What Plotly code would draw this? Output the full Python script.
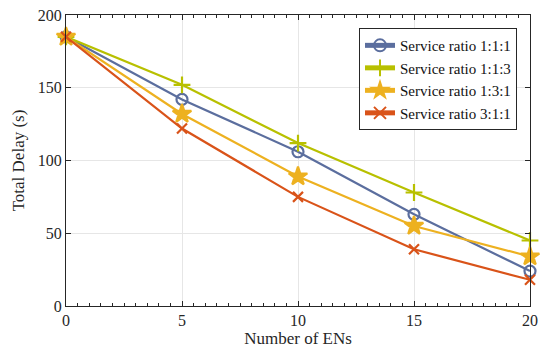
import plotly.graph_objects as go

ens = [0, 5, 10, 15, 20]
names = ["Service ratio 1:1:1", "Service ratio 1:1:3", "Service ratio 1:3:1", "Service ratio 3:1:1"]
s111 = [185, 142, 106, 63, 24]
s113 = [185, 152, 112, 78, 45]
s131 = [185, 132, 89, 55, 34]
s311 = [185, 122, 75, 39, 18]

series = [s111, s113, s131, s311]
colors = ["#5B6E9E", "#B8C000", "#EDB120", "#D95319"]
symbols = ["circle-open", "cross-thin-open", "star", "x-thin-open"]
sizes = [11, 12, 14, 10]

fig = go.Figure()
for nm, ys, c, sym, sz in zip(names, series, colors, symbols, sizes):
    fig.add_trace(go.Scatter(
        x=ens, y=ys, name=nm, mode="lines+markers",
        line=dict(color=c, width=2.2),
        marker=dict(symbol=sym, size=sz, color=c, line=dict(color=c, width=2.2)),
        cliponaxis=False,
    ))

axis_common = dict(
    showline=True, linecolor="#262626", linewidth=1, mirror="ticks",
    ticks="inside", ticklen=5, tickcolor="#262626",
    showgrid=True, gridcolor="#E6E6E6", gridwidth=1, zeroline=False,
    tickfont=dict(family="Liberation Serif", size=16, color="#262626"),
    automargin=False,
)
fig.update_xaxes(range=[0, 20], dtick=5, title=dict(text="Number of ENs", font=dict(family="Liberation Serif", size=17, color="#262626"), standoff=2),
                 minor=dict(ticks="inside", dtick=0.5, ticklen=3, tickcolor="#262626", showgrid=False), **axis_common)
fig.update_yaxes(range=[0, 200], dtick=50, title=dict(text="Total Delay (s)", font=dict(family="Liberation Serif", size=17, color="#262626"), standoff=8),
                 **axis_common)

fig.update_layout(
    width=556, height=348,
    margin=dict(l=66, r=26, t=15, b=42),
    plot_bgcolor="white", paper_bgcolor="white",
    legend=dict(x=0.972, y=0.955, xanchor="right", yanchor="top",
                bgcolor="white", bordercolor="#262626", borderwidth=1,
                font=dict(family="Liberation Serif", size=15, color="#111"),
                tracegroupgap=0, itemsizing="constant"),
)
fig.write_html("out.html", config={"displayModeBar": False},
               post_script="document.body.style.margin='0';document.body.style.padding='0';")
